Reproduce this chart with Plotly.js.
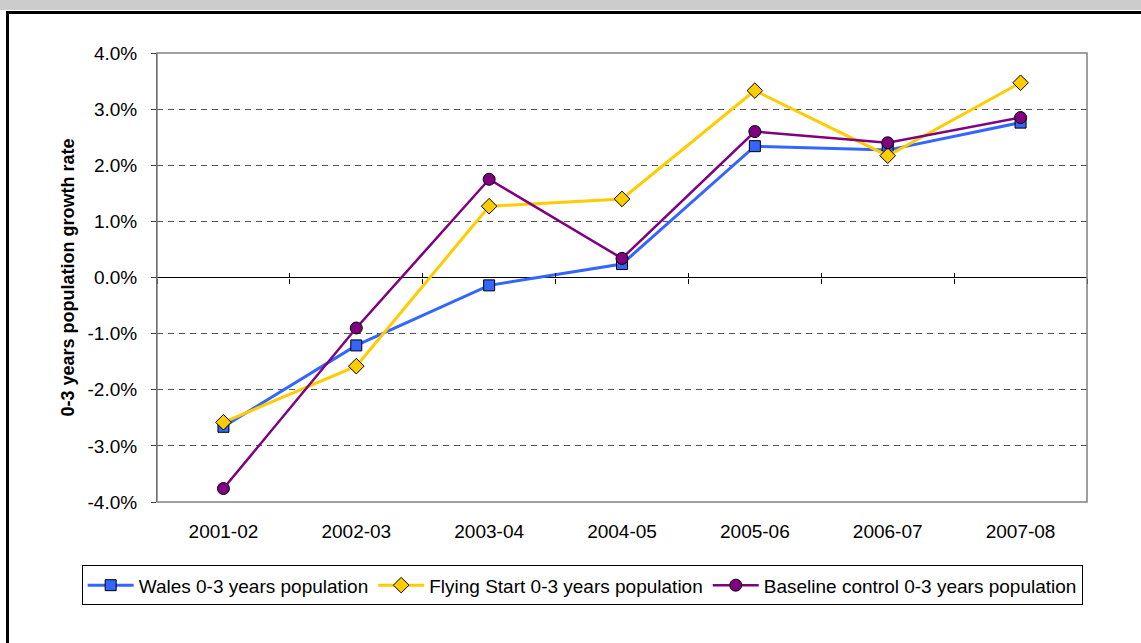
<!DOCTYPE html>
<html>
<head>
<meta charset="utf-8">
<script src="https://cdn.plot.ly/plotly-3.0.1.min.js"></script>
<style>
  html, body { margin: 0; padding: 0; background: #ffffff; overflow: hidden; }
  #band { position: absolute; left: 0; top: 0; width: 1141px; height: 10px; background: #cccccc; }
  #frame { position: absolute; left: 6px; top: 11px; width: 2000px; height: 2000px;
           border-left: 3px solid #000; border-top: 3px solid #000; }
  #chart { position: absolute; left: 0; top: 0; width: 1141px; height: 643px; }
</style>
</head>
<body>
<div id="band"></div>
<div id="frame"></div>
<div id="chart"></div>
<script>
const categories = ["2001-02", "2002-03", "2003-04", "2004-05", "2005-06", "2006-07", "2007-08"];
const walesValues = [-2.66, -1.21, -0.14, 0.24, 2.34, 2.27, 2.76];
const flyingStartValues = [-2.58, -1.58, 1.27, 1.40, 3.33, 2.17, 3.47];
const baselineValues = [-3.76, -0.90, 1.75, 0.34, 2.60, 2.40, 2.85];
const seriesNames = ["Wales 0-3 years population", "Flying Start 0-3 years population", "Baseline control 0-3 years population"];
const yTickValues = [-4, -3, -2, -1, 0, 1, 2, 3, 4];
const yTickLabels = ["-4.0%", "-3.0%", "-2.0%", "-1.0%", "0.0%", "1.0%", "2.0%", "3.0%", "4.0%"];

const boundaries = categories.map((c, i) => i - 0.5).concat([categories.length - 0.5]);
const font = "Liberation Sans, Arial, sans-serif";

const traces = [
  { x: categories, y: walesValues, name: seriesNames[0], type: "scatter", mode: "lines+markers",
    line: { color: "#3366FF", width: 3 },
    marker: { symbol: "square", size: 11, color: "#3366FF", line: { color: "#000", width: 1 } } },
  { x: categories, y: flyingStartValues, name: seriesNames[1], type: "scatter", mode: "lines+markers",
    line: { color: "#FFCC00", width: 3 },
    marker: { symbol: "diamond", size: 12, color: "#FFCC00", line: { color: "#000", width: 1 } } },
  { x: categories, y: baselineValues, name: seriesNames[2], type: "scatter", mode: "lines+markers",
    line: { color: "#800080", width: 2.5 },
    marker: { symbol: "circle", size: 12, color: "#800080", line: { color: "#000", width: 1 } } },
  { x: [], y: [], xaxis: "x2", showlegend: false, hoverinfo: "skip", type: "scatter" },
  { x: [], y: [], xaxis: "x3", showlegend: false, hoverinfo: "skip", type: "scatter" }
];

const tickAxis = (dir) => ({
  overlaying: "x", anchor: "free", position: 0.5, type: "linear",
  range: [-0.5, categories.length - 0.5],
  tickmode: "array", tickvals: boundaries, ticks: dir, ticklen: 5, tickcolor: "#000", tickwidth: 1,
  showticklabels: false, showgrid: false, zeroline: false, showline: false
});

const layout = {
  width: 1141, height: 643,
  margin: { l: 157, r: 54, t: 53, b: 141, pad: 0 },
  paper_bgcolor: "rgba(0,0,0,0)", plot_bgcolor: "#ffffff",
  font: { family: font, size: 19, color: "#000" },
  showlegend: true,
  legend: {
    orientation: "h", x: -0.081, xanchor: "left", y: -0.141, yanchor: "top",
    bordercolor: "#000", borderwidth: 1, bgcolor: "#fff",
    font: { family: font, size: 19, color: "#000" },
    itemwidth: 46, tracegroupgap: 0
  },
  xaxis: {
    type: "category", range: [-0.5, categories.length - 0.5],
    showgrid: false, zeroline: false, showline: false,
    ticks: "outside", ticklen: 12, tickcolor: "rgba(0,0,0,0)",
    tickfont: { family: font, size: 19, color: "#000" }
  },
  xaxis2: tickAxis("outside"),
  xaxis3: tickAxis("inside"),
  yaxis: {
    range: [-4, 4], tickmode: "array", tickvals: yTickValues, ticktext: yTickLabels,
    ticks: "outside", ticklen: 5, tickcolor: "#404040",
    showline: true, linecolor: "#404040", linewidth: 1,
    showgrid: true, gridcolor: "#555555", gridwidth: 1, griddash: "6px,5px",
    zeroline: true, zerolinecolor: "#000", zerolinewidth: 1,
    tickfont: { family: font, size: 19, color: "#000" },
    ticklabelstandoff: 10,
    title: { text: "<b>0-3 years population growth rate</b>", font: { family: font, size: 18, color: "#000" }, standoff: 8 }
  },
  shapes: [
    { type: "rect", xref: "paper", yref: "paper", x0: 0, x1: 1, y0: 0, y1: 1,
      line: { color: "#808080", width: 1.5 }, fillcolor: "rgba(0,0,0,0)", layer: "above" }
  ]
};

Plotly.newPlot("chart", traces, layout, { displayModeBar: false, staticPlot: true });
</script>
</body>
</html>
